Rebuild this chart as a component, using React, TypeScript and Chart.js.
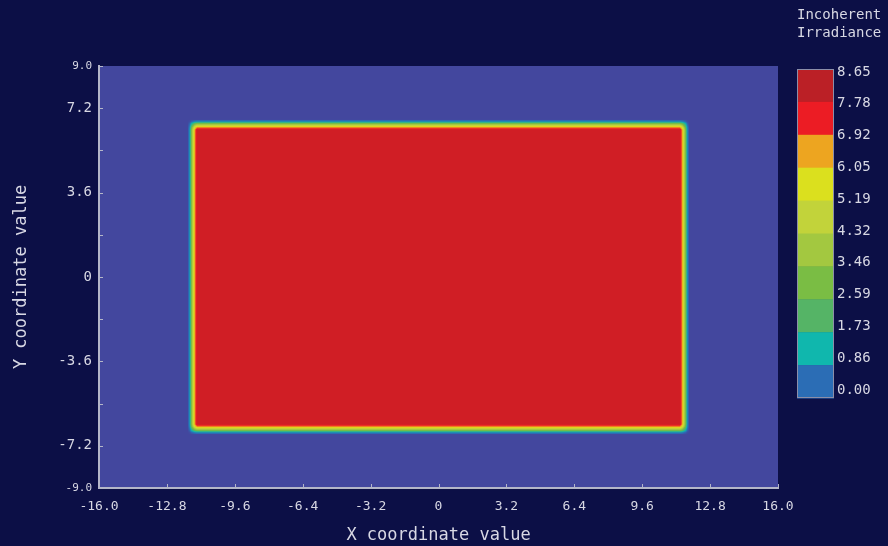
import React, { useEffect, useRef } from 'react';
import { Chart, registerables } from 'chart.js';

Chart.register(...registerables);

// ---- axes ----
const xTicks = [-16, -12.8, -9.6, -6.4, -3.2, 0, 3.2, 6.4, 9.6, 12.8, 16];
const xTickLabels = ['-16.0', '-12.8', '-9.6', '-6.4', '-3.2', '0', '3.2', '6.4', '9.6', '12.8', '16.0'];
const yTicks = [-9, -7.2, -5.4, -3.6, -1.8, 0, 1.8, 3.6, 5.4, 7.2, 9];
const yTickLabels = ['-9.0', '-7.2', '', '-3.6', '', '0', '', '3.6', '', '7.2', '9.0'];

// ---- colour legend ----
const colorbarTitle = ['Incoherent', 'Irradiance'];
const colorbarLabels = ['8.65', '7.78', '6.92', '6.05', '5.19', '4.32', '3.46', '2.59', '1.73', '0.86', '0.00'];
const colorbarColors = ['#bb2026', '#ec1c24', '#eda520', '#dbe01e', '#c2d33a', '#a3c840', '#7abd44', '#55b466', '#10b7ad', '#2b6db5'];

// ---- continuous colormap of the irradiance map ----
const mapStopValues = [0, 0.43, 1.3, 2.16, 3.03, 3.89, 4.76, 5.62, 6.49, 7.35, 8.22, 8.65];
const mapStopColors = ['#43479e', '#2b6db5', '#10b7ad', '#55b466', '#7abd44', '#a3c840', '#c2d33a', '#dbe01e', '#eda520', '#ec1c24', '#bb2026', '#bb2026'];

// ---- illuminated rectangle ----
const spotHalfX = 11.6;
const spotHalfY = 6.5;
const plateauLevel = 7.85;
// edge roll-off: distance inside the edge (coordinate units) vs fraction of plateau
const edgeDistance = [-0.22, -0.12, -0.04, 0.04, 0.12, 0.22];
const edgeFraction = [0, 0.12, 0.4, 0.62, 0.85, 1];

const BG = '#0c0f46';
const TEXT = '#d8d8e4';
const AXIS = '#b4b6c8';
const FONT = "'DejaVu Sans Mono', monospace";

function hexToRgb(h: string): number[] {
  const n = parseInt(h.slice(1), 16);
  return [(n >> 16) & 255, (n >> 8) & 255, n & 255];
}

function interp(xs: number[], ys: number[], x: number): number {
  if (x <= xs[0]) return ys[0];
  if (x >= xs[xs.length - 1]) return ys[ys.length - 1];
  for (let i = 1; i < xs.length; i++) {
    if (x <= xs[i]) {
      const t = (x - xs[i - 1]) / (xs[i] - xs[i - 1]);
      return ys[i - 1] + t * (ys[i] - ys[i - 1]);
    }
  }
  return ys[ys.length - 1];
}

function colorAt(v: number): number[] {
  const cols = mapStopColors.map(hexToRgb);
  if (v <= mapStopValues[0]) return cols[0];
  for (let i = 1; i < mapStopValues.length; i++) {
    if (v <= mapStopValues[i]) {
      const t = (v - mapStopValues[i - 1]) / (mapStopValues[i] - mapStopValues[i - 1]);
      return [0, 1, 2].map((k) => cols[i - 1][k] + t * (cols[i][k] - cols[i - 1][k]));
    }
  }
  return cols[cols.length - 1];
}

const mapPlugin = {
  id: 'irradianceMap',
  beforeDraw(chart: any) {
    const ctx = chart.ctx as CanvasRenderingContext2D;
    ctx.save();
    ctx.fillStyle = BG;
    ctx.fillRect(0, 0, chart.width, chart.height);
    ctx.restore();

    const { left, top, right, bottom } = chart.chartArea;
    const x0 = Math.round(left);
    const y0 = Math.round(top);
    const w = Math.round(right) - x0;
    const h = Math.round(bottom) - y0;
    const xs = chart.scales.x;
    const ys = chart.scales.y;
    const vmax = mapStopValues[mapStopValues.length - 1];
    const LUT = 1024;
    const lut: number[][] = [];
    for (let i = 0; i <= LUT; i++) lut.push(colorAt((i / LUT) * vmax));
    const fxs = new Float64Array(w);
    for (let i = 0; i < w; i++) {
      const xv = xs.getValueForPixel(x0 + i + 0.5);
      fxs[i] = interp(edgeDistance, edgeFraction, spotHalfX - Math.abs(xv));
    }
    const img = ctx.createImageData(w, h);
    const d = img.data;
    for (let j = 0; j < h; j++) {
      const yv = ys.getValueForPixel(y0 + j + 0.5);
      const fy = interp(edgeDistance, edgeFraction, spotHalfY - Math.abs(yv));
      for (let i = 0; i < w; i++) {
        const v = plateauLevel * fxs[i] * fy;
        const c = lut[Math.max(0, Math.min(LUT, Math.round((v / vmax) * LUT)))];
        const o = (j * w + i) * 4;
        d[o] = c[0];
        d[o + 1] = c[1];
        d[o + 2] = c[2];
        d[o + 3] = 255;
      }
    }
    ctx.putImageData(img, x0, y0);
  },
  afterDraw(chart: any) {
    const ctx = chart.ctx as CanvasRenderingContext2D;
    const { left, bottom } = chart.chartArea;
    const xs = chart.scales.x;
    const ys = chart.scales.y;
    ctx.save();
    // inward tick marks
    ctx.strokeStyle = AXIS;
    ctx.lineWidth = 1;
    ctx.beginPath();
    xTicks.forEach((t) => {
      const px = Math.round(xs.getPixelForValue(t)) + 0.5;
      ctx.moveTo(px, bottom);
      ctx.lineTo(px, bottom - 4);
    });
    yTicks.forEach((t) => {
      const py = Math.round(ys.getPixelForValue(t)) + 0.5;
      ctx.moveTo(left, py);
      ctx.lineTo(left + 4, py);
    });
    ctx.stroke();

    // colour legend
    const cbL = 797, cbT = 69, cbW = 37, cbH = 329;
    const n = colorbarColors.length;
    const bh = cbH / n;
    colorbarColors.forEach((c, i) => {
      ctx.fillStyle = c;
      ctx.fillRect(cbL, cbT + i * bh, cbW, bh + 0.5);
    });
    ctx.strokeStyle = '#8c8ea8';
    ctx.lineWidth = 1;
    ctx.strokeRect(cbL + 0.5, cbT + 0.5, cbW - 1, cbH - 1);

    ctx.fillStyle = TEXT;
    ctx.font = `14px ${FONT}`;
    ctx.textAlign = 'left';
    ctx.textBaseline = 'middle';
    const lt = 72, lb = 390;
    colorbarLabels.forEach((s, i) => {
      ctx.fillText(s, 837, lt + (i * (lb - lt)) / (colorbarLabels.length - 1));
    });
    colorbarTitle.forEach((s, i) => {
      ctx.fillText(s, 797, 15 + i * 18);
    });
    ctx.restore();
  },
};

export default function App() {
  const ref = useRef<HTMLCanvasElement | null>(null);
  useEffect(() => {
    if (!ref.current) return;
    const chart = new Chart(ref.current, {
      type: 'scatter',
      data: { datasets: [{ data: [], pointRadius: 0 }] },
      options: {
        animation: false,
        responsive: false,
        maintainAspectRatio: false,
        layout: { padding: { left: 0, top: 66, right: 110, bottom: 0 } },
        plugins: { legend: { display: false }, tooltip: { enabled: false } },
        scales: {
          x: {
            type: 'linear',
            min: -16,
            max: 16,
            afterBuildTicks: (s: any) => {
              s.ticks = xTicks.map((v) => ({ value: v }));
            },
            afterFit: (s: any) => {
              s.height = 58;
            },
            grid: { display: false, drawTicks: false },
            border: { display: true, color: AXIS, width: 2 },
            ticks: {
              autoSkip: false,
              maxRotation: 0,
              padding: 11,
              color: TEXT,
              font: { family: FONT, size: 13 },
              callback: (v: any) => {
                const i = xTicks.findIndex((t) => Math.abs(t - Number(v)) < 1e-6);
                return i >= 0 ? xTickLabels[i] : '';
              },
            },
            title: {
              display: true,
              text: 'X coordinate value',
              color: TEXT,
              font: { family: FONT, size: 17 },
              padding: { top: 0, bottom: 0 },
            },
          },
          y: {
            type: 'linear',
            min: -9,
            max: 9,
            afterBuildTicks: (s: any) => {
              s.ticks = yTicks.map((v) => ({ value: v }));
            },
            afterFit: (s: any) => {
              s.width = 99;
            },
            grid: { display: false, drawTicks: false },
            border: { display: true, color: AXIS, width: 2 },
            ticks: {
              autoSkip: false,
              padding: 7,
              color: TEXT,
              font: (c: any) => ({
                family: FONT,
                size: c.tick && Math.abs(c.tick.value) === 9 ? 11 : 14,
              }),
              callback: (v: any) => {
                const i = yTicks.findIndex((t) => Math.abs(t - Number(v)) < 1e-6);
                return i >= 0 ? yTickLabels[i] : '';
              },
            },
            title: {
              display: true,
              text: 'Y coordinate value',
              color: TEXT,
              font: { family: FONT, size: 17 },
              padding: { top: 11, bottom: 0 },
            },
          },
        },
      },
      plugins: [mapPlugin],
    } as any);
    return () => chart.destroy();
  }, []);
  return (
    <div style={{ position: 'fixed', left: 0, top: 0, width: 888, height: 546, background: BG }}>
      <canvas ref={ref} width={888} height={546} />
    </div>
  );
}
